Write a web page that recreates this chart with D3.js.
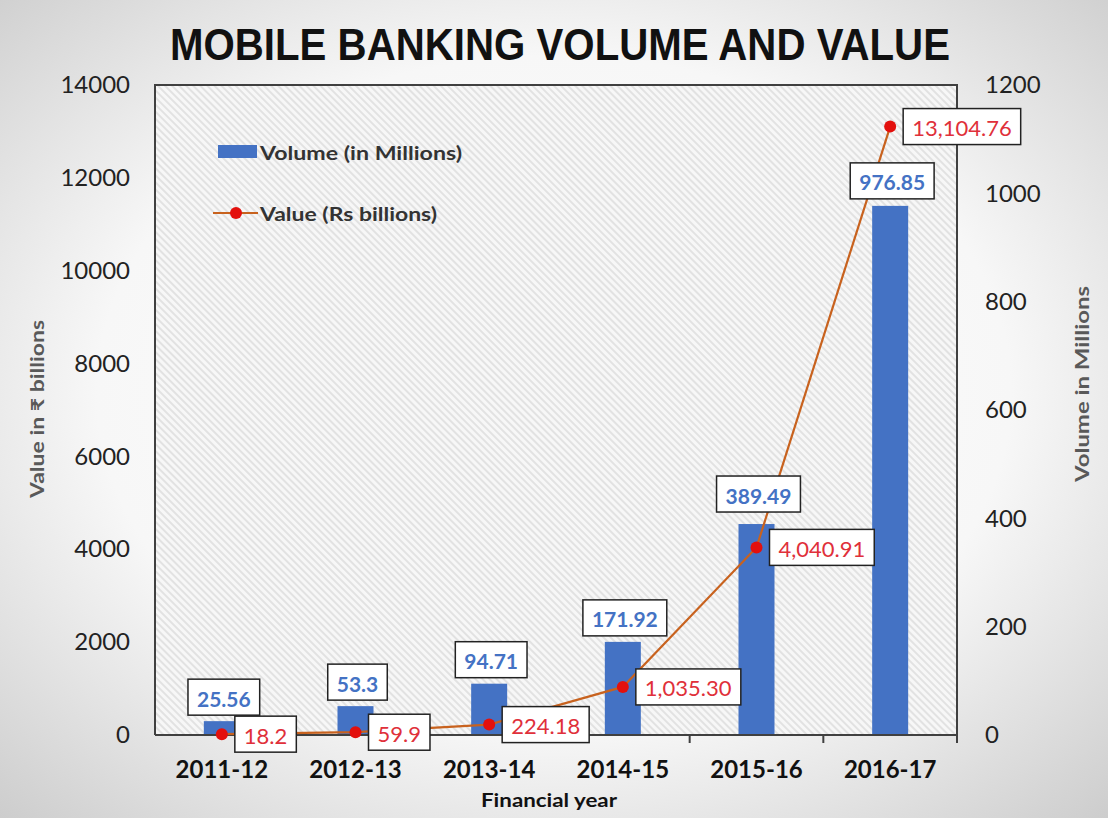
<!DOCTYPE html>
<html><head><meta charset="utf-8">
<script src="https://cdn.jsdelivr.net/npm/d3@7"></script>
<style>html,body{margin:0;padding:0;background:#fff;}svg{display:block;}</style>
</head><body>
<svg id="chart" width="1108" height="818"></svg>
<script>
const categories = ["2011-12","2012-13","2013-14","2014-15","2015-16","2016-17"];
const volume = [25.56, 53.3, 94.71, 171.92, 389.49, 976.85];
const value = [18.2, 59.9, 224.18, 1035.30, 4040.91, 13104.76];
const volumeLabels = ["25.56","53.3","94.71","171.92","389.49","976.85"];
const valueLabels = ["18.2","59.9","224.18","1,035.30","4,040.91","13,104.76"];
const leftTicks = [0,2000,4000,6000,8000,10000,12000,14000];
const rightTicks = [0,200,400,600,800,1000,1200];

const W = 1108, H = 818;
const m = {left:155, right:1108-957, top:85, bottom:818-735};
const svg = d3.select("#chart");
const defs = svg.append("defs");

const rg = defs.append("radialGradient").attr("id","bg").attr("cx","50%").attr("cy","48%").attr("r","75%");
rg.append("stop").attr("offset","0%").attr("stop-color","#ffffff");
rg.append("stop").attr("offset","55%").attr("stop-color","#f7f7f7");
rg.append("stop").attr("offset","100%").attr("stop-color","#c9c9c9");
svg.append("rect").attr("width",W).attr("height",H).attr("fill","url(#bg)");

const pat = defs.append("pattern").attr("id","hatch").attr("patternUnits","userSpaceOnUse")
  .attr("width",5).attr("height",5).attr("patternTransform","rotate(-45)");
pat.append("rect").attr("width",5).attr("height",5).attr("fill","#f7f7f7");
pat.append("rect").attr("width",2).attr("height",5).attr("fill","#e2e2e2");

const x = d3.scaleBand().domain(categories).range([m.left, W-m.right]).padding(0);
const yL = d3.scaleLinear().domain([0,14000]).range([H-m.bottom, m.top]);
const yR = d3.scaleLinear().domain([0,1200]).range([H-m.bottom, m.top]);
const barW = 36;

svg.append("rect").attr("x",m.left).attr("y",m.top).attr("width",W-m.right-m.left)
  .attr("height",H-m.bottom-m.top).attr("fill","url(#hatch)");

// title
svg.append("text").attr("x",560).attr("y",60).attr("text-anchor","middle")
  .attr("font-family","'Liberation Sans',Arial,sans-serif")
  .attr("font-weight","bold").attr("font-size",45).attr("fill","#111")
  .attr("textLength",780).attr("lengthAdjust","spacingAndGlyphs")
  .text("MOBILE BANKING VOLUME AND VALUE");

// bars
svg.selectAll("rect.bar").data(volume).enter().append("rect").attr("class","bar")
  .attr("x",(d,i)=>x(categories[i])+x.bandwidth()/2-barW/2)
  .attr("y",d=>yR(d)).attr("width",barW).attr("height",d=>yR(0)-yR(d))
  .attr("fill","#4472c4");

// axes
const font = "Lato, 'Open Sans', sans-serif";
const gL = svg.append("g").attr("transform",`translate(${m.left},0)`)
  .call(d3.axisLeft(yL).tickValues(leftTicks).tickSize(0).tickPadding(25).tickFormat(d3.format("d")));
const gR = svg.append("g").attr("transform",`translate(${W-m.right},0)`)
  .call(d3.axisRight(yR).tickValues(rightTicks).tickSize(0).tickPadding(28).tickFormat(d3.format("d")));
[gL,gR].forEach(g=>{
  g.select(".domain").remove();
  g.selectAll("text").attr("font-family",font).attr("font-size",24).attr("fill","#222");
});
const gX = svg.append("g").attr("transform",`translate(0,${H-m.bottom})`)
  .call(d3.axisBottom(x).tickSize(0).tickPadding(26));
gX.select(".domain").remove();
gX.selectAll("text").attr("font-family",font).attr("font-size",24).attr("font-weight","bold").attr("fill","#111");

// frame
const fr = svg.append("g").attr("fill","none").attr("stroke","#404040").attr("stroke-width",2);
fr.append("path").attr("d",`M${m.left},${H-m.bottom}V${m.top}H${W-m.right}V${H-m.bottom+8}`);
fr.append("line").attr("x1",m.left).attr("x2",W-m.right).attr("y1",H-m.bottom).attr("y2",H-m.bottom);
const bounds = categories.map(c=>x(c)).concat([W-m.right]);
fr.selectAll("line.tk").data(bounds.slice(1)).enter().append("line").attr("class","tk")
  .attr("x1",d=>d).attr("x2",d=>d).attr("y1",H-m.bottom).attr("y2",H-m.bottom+8);

// line
const cx = (i)=>x(categories[i])+x.bandwidth()/2;
const line = d3.line().x((d,i)=>cx(i)).y(d=>yL(d));
svg.append("path").datum(value).attr("d",line).attr("fill","none")
  .attr("stroke","#c8621e").attr("stroke-width",2.2);
svg.selectAll("circle.pt").data(value).enter().append("circle").attr("class","pt")
  .attr("cx",(d,i)=>cx(i)).attr("cy",d=>yL(d)).attr("r",6).attr("fill","#e3100d");

// labels
function boxLabel(cxp, cyp, txt, color, weight, anchor, fs, pw){
  const g = svg.append("g");
  const t = g.append("text").attr("font-family",font).attr("font-size",fs).attr("font-weight",weight)
    .attr("fill",color).attr("dominant-baseline","central").text(txt);
  const bb = t.node().getBBox();
  const bw = bb.width + pw*2, bh = 36;
  const left = anchor==="middle" ? cxp - bw/2 : cxp;
  t.attr("x", left + pw).attr("y", cyp + 1);
  g.insert("rect","text").attr("x",left).attr("y",cyp-bh/2).attr("width",bw).attr("height",bh)
    .attr("fill","#fff").attr("stroke","#222").attr("stroke-width",1.5);
}
const volOffset = [24,24,24,24,30,25];
volume.forEach((d,i)=>boxLabel(cx(i)+2, yR(d)-volOffset[i], volumeLabels[i], "#4472c4", "bold", "middle", 21, 9));
value.forEach((d,i)=>boxLabel(cx(i)+13, yL(d), valueLabels[i], "#e0303a", "normal", "start", 22, 9));

// legend
const legFont = {family:font, size:18};
svg.append("rect").attr("x",218).attr("y",145).attr("width",39).attr("height",13).attr("fill","#4472c4");
svg.append("text").attr("x",260).attr("y",152).attr("dominant-baseline","central")
  .attr("font-family",font).attr("font-size",19).attr("font-weight","bold").attr("fill","#333")
  .attr("textLength",202).attr("lengthAdjust","spacingAndGlyphs")
  .text("Volume (in Millions)");
svg.append("line").attr("x1",213).attr("x2",258).attr("y1",213).attr("y2",213)
  .attr("stroke","#c8621e").attr("stroke-width",2.2);
svg.append("circle").attr("cx",236).attr("cy",213).attr("r",6).attr("fill","#e3100d");
svg.append("text").attr("x",260).attr("y",213).attr("dominant-baseline","central")
  .attr("font-family",font).attr("font-size",19).attr("font-weight","bold").attr("fill","#333")
  .attr("textLength",177).attr("lengthAdjust","spacingAndGlyphs")
  .text("Value (Rs billions)");

// axis titles
svg.append("text").attr("transform","translate(44,409) rotate(-90)").attr("text-anchor","middle")
  .attr("font-family",font).attr("font-size",18).attr("font-weight","bold").attr("fill","#595959")
  .attr("textLength",178).attr("lengthAdjust","spacingAndGlyphs")
  .text("Value in ₹ billions");
svg.append("text").attr("transform","translate(1089,384) rotate(-90)").attr("text-anchor","middle")
  .attr("font-family",font).attr("font-size",18).attr("font-weight","bold").attr("fill","#595959")
  .attr("textLength",196).attr("lengthAdjust","spacingAndGlyphs")
  .text("Volume in Millions");
svg.append("text").attr("x",549).attr("y",807).attr("text-anchor","middle")
  .attr("font-family",font).attr("font-size",19).attr("font-weight","bold").attr("fill","#111")
  .attr("textLength",136).attr("lengthAdjust","spacingAndGlyphs")
  .text("Financial year");
</script>
</body></html>
